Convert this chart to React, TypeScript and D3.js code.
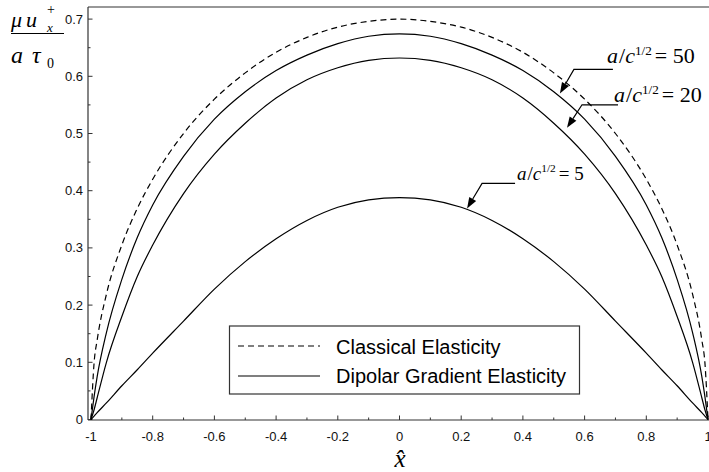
import React from "react";
import * as d3 from "d3";

const xTicks = [-1, -0.8, -0.6, -0.4, -0.2, 0, 0.2, 0.4, 0.6, 0.8, 1];
const xTickLabels = ["-1", "-0.8", "-0.6", "-0.4", "-0.2", "0", "0.2", "0.4", "0.6", "0.8", "1"];
const yTicks = [0, 0.1, 0.2, 0.3, 0.4, 0.5, 0.6, 0.7];
const yTickLabels = ["0", "0.1", "0.2", "0.3", "0.4", "0.5", "0.6", "0.7"];

const xs = [-1, -0.99, -0.98, -0.95, -0.9, -0.85, -0.8, -0.7, -0.6, -0.5, -0.4, -0.3, -0.2, -0.1, 0,
  0.1, 0.2, 0.3, 0.4, 0.5, 0.6, 0.7, 0.8, 0.85, 0.9, 0.95, 0.98, 0.99, 1];

const classical = [0, 0.099, 0.139, 0.219, 0.305, 0.369, 0.42, 0.5, 0.56, 0.606, 0.642, 0.668, 0.686, 0.696, 0.7,
  0.696, 0.686, 0.668, 0.642, 0.606, 0.56, 0.5, 0.42, 0.369, 0.305, 0.219, 0.139, 0.099, 0];
const dipolar50 = [0, 0.04, 0.075, 0.152, 0.245, 0.318, 0.375, 0.46, 0.525, 0.573, 0.61, 0.637, 0.657, 0.67, 0.674,
  0.67, 0.657, 0.637, 0.61, 0.573, 0.525, 0.46, 0.375, 0.318, 0.245, 0.152, 0.075, 0.04, 0];
const dipolar20 = [0, 0.017, 0.038, 0.1, 0.18, 0.25, 0.305, 0.395, 0.464, 0.518, 0.562, 0.594, 0.615, 0.628, 0.632,
  0.628, 0.615, 0.594, 0.562, 0.518, 0.464, 0.395, 0.305, 0.25, 0.18, 0.1, 0.038, 0.017, 0];
const dipolar5 = [0, 0.006, 0.012, 0.029, 0.059, 0.087, 0.116, 0.172, 0.228, 0.276, 0.316, 0.348, 0.371, 0.384, 0.388,
  0.384, 0.371, 0.348, 0.316, 0.276, 0.228, 0.172, 0.116, 0.087, 0.059, 0.029, 0.012, 0.006, 0];

const annLabels = ["50", "20", "5"];
const annTipX = [0.52, 0.543, 0.219];
const annTipY = [0.57, 0.51, 0.369];

const legendLabels = ["Classical Elasticity", "Dipolar Gradient Elasticity"];

export default function App() {
  const W = 709, H = 472;
  const x = d3.scaleLinear().domain([-1, 1]).range([91, 708]);
  const y = d3.scaleLinear().domain([0, 0.7]).range([419.5, 19.1]);
  const left = 88, bottom = 420, top = 7, right = 709;

  const line = d3.line<number>()
    .x((_, i) => x(xs[i]))
    .y((d) => y(d))
    .curve(d3.curveMonotoneX);

  const minorX = d3.range(-0.9, 1.0, 0.2);
  const minorY = d3.range(0.05, 0.7, 0.1);
  const axisColor = "#333";

  const annOffsets = [
    { dx: 14, dy: -24, hx: 53, text: 607, base: 63, fs: 22 },
    { dx: 15, dy: -23, hx: 51, text: 614, base: 102, fs: 22 },
    { dx: 15, dy: -25, hx: 48, text: 517, base: 180, fs: 19 },
  ];

  return (
    <svg width={W} height={H} style={{ position: "absolute", left: 0, top: 0, background: "#fff" }}>
      <rect x={0} y={0} width={W} height={H} fill="#fff" />
      <line x1={left} y1={top} x2={right} y2={top} stroke={axisColor} strokeWidth={1.2} />
      <line x1={left} y1={top} x2={left} y2={bottom} stroke={axisColor} strokeWidth={1.2} />
      <line x1={left} y1={bottom} x2={right} y2={bottom} stroke={axisColor} strokeWidth={1.2} />

      {xTicks.map((t, i) => (
        <g key={"xt" + i}>
          <line x1={x(t)} x2={x(t)} y1={bottom} y2={bottom - 4.5} stroke={axisColor} strokeWidth={1} />
          <text x={x(t)} y={441} fontFamily="Liberation Sans, Arial, sans-serif" fontSize={13} textAnchor="middle" fill="#111">
            {xTickLabels[i]}
          </text>
        </g>
      ))}
      {minorX.map((t, i) => (
        <line key={"xm" + i} x1={x(t)} x2={x(t)} y1={bottom} y2={bottom - 2.5} stroke={axisColor} strokeWidth={1} />
      ))}
      {yTicks.map((t, i) => (
        <g key={"yt" + i}>
          <line x1={left} x2={left + 4.5} y1={y(t)} y2={y(t)} stroke={axisColor} strokeWidth={1} />
          <text x={83} y={y(t) + 4.5} fontFamily="Liberation Sans, Arial, sans-serif" fontSize={13} textAnchor="end" fill="#111">
            {yTickLabels[i]}
          </text>
        </g>
      ))}
      {minorY.map((t, i) => (
        <line key={"ym" + i} x1={left} x2={left + 2.5} y1={y(t)} y2={y(t)} stroke={axisColor} strokeWidth={1} />
      ))}

      <path d={line(classical) || ""} fill="none" stroke="#000" strokeWidth={1.2} strokeDasharray="6,4" />
      <path d={line(dipolar50) || ""} fill="none" stroke="#000" strokeWidth={1.2} />
      <path d={line(dipolar20) || ""} fill="none" stroke="#000" strokeWidth={1.2} />
      <path d={line(dipolar5) || ""} fill="none" stroke="#000" strokeWidth={1.2} />

      {annLabels.map((lab, i) => {
        const tx = x(annTipX[i]);
        const ty = y(annTipY[i]);
        const o = annOffsets[i];
        const kx = tx + o.dx, ky = ty + o.dy;
        const ang = Math.atan2(ty - ky, tx - kx);
        const L = 11, w = 4;
        const bx = tx - L * Math.cos(ang), by = ty - L * Math.sin(ang);
        const p1 = [bx + w * Math.sin(ang), by - w * Math.cos(ang)];
        const p2 = [bx - w * Math.sin(ang), by + w * Math.cos(ang)];
        return (
          <g key={"ann" + i}>
            <polyline points={`${kx + o.hx - o.dx},${ky} ${kx},${ky} ${bx},${by}`} fill="none" stroke="#000" strokeWidth={1.2} />
            <polygon points={`${tx},${ty} ${p1[0]},${p1[1]} ${p2[0]},${p2[1]}`} fill="#000" />
            <text x={o.text} y={o.base} fontFamily="Liberation Serif, Times New Roman, serif" fontSize={o.fs} fill="#000">
              <tspan fontStyle="italic">a</tspan>
              <tspan dx={1}>/</tspan>
              <tspan fontStyle="italic">c</tspan>
              <tspan dy={-8} fontSize={o.fs * 0.6}>1/2</tspan>
              <tspan dy={8} dx={3}>{"= " + lab}</tspan>
            </text>
          </g>
        );
      })}

      <rect x={229.5} y={326} width={350} height={68} fill="#fff" stroke={axisColor} strokeWidth={1.2} />
      <line x1={238} x2={320} y1={346} y2={346} stroke="#000" strokeWidth={1.2} strokeDasharray="6,4" />
      <line x1={238} x2={320} y1={376} y2={376} stroke="#000" strokeWidth={1.2} />
      {legendLabels.map((l, i) => (
        <text key={"lg" + i} x={336} y={353.5 + i * 29.5} fontFamily="Liberation Sans, Arial, sans-serif" fontSize={20} fill="#000">
          {l}
        </text>
      ))}

      <g fontFamily="Liberation Serif, Times New Roman, serif" fill="#000">
        <text x={11} y={27} fontSize={22} fontStyle="italic">μ</text>
        <text x={26} y={27} fontSize={22} fontStyle="italic">u</text>
        <text x={47} y={32} fontSize={13} fontStyle="italic">x</text>
        <text x={47} y={14} fontSize={14}>+</text>
        <line x1={11} x2={64} y1={33.5} y2={33.5} stroke="#000" strokeWidth={1.2} />
        <text x={11} y={63} fontSize={24} fontStyle="italic">a</text>
        <text x={32} y={63} fontSize={24} fontStyle="italic">τ</text>
        <text x={47} y={68} fontSize={14}>0</text>
      </g>
      <text x={400} y={467} fontFamily="Liberation Serif, Times New Roman, serif" fontSize={25} fontStyle="italic" textAnchor="middle">
        x̂
      </text>
    </svg>
  );
}
